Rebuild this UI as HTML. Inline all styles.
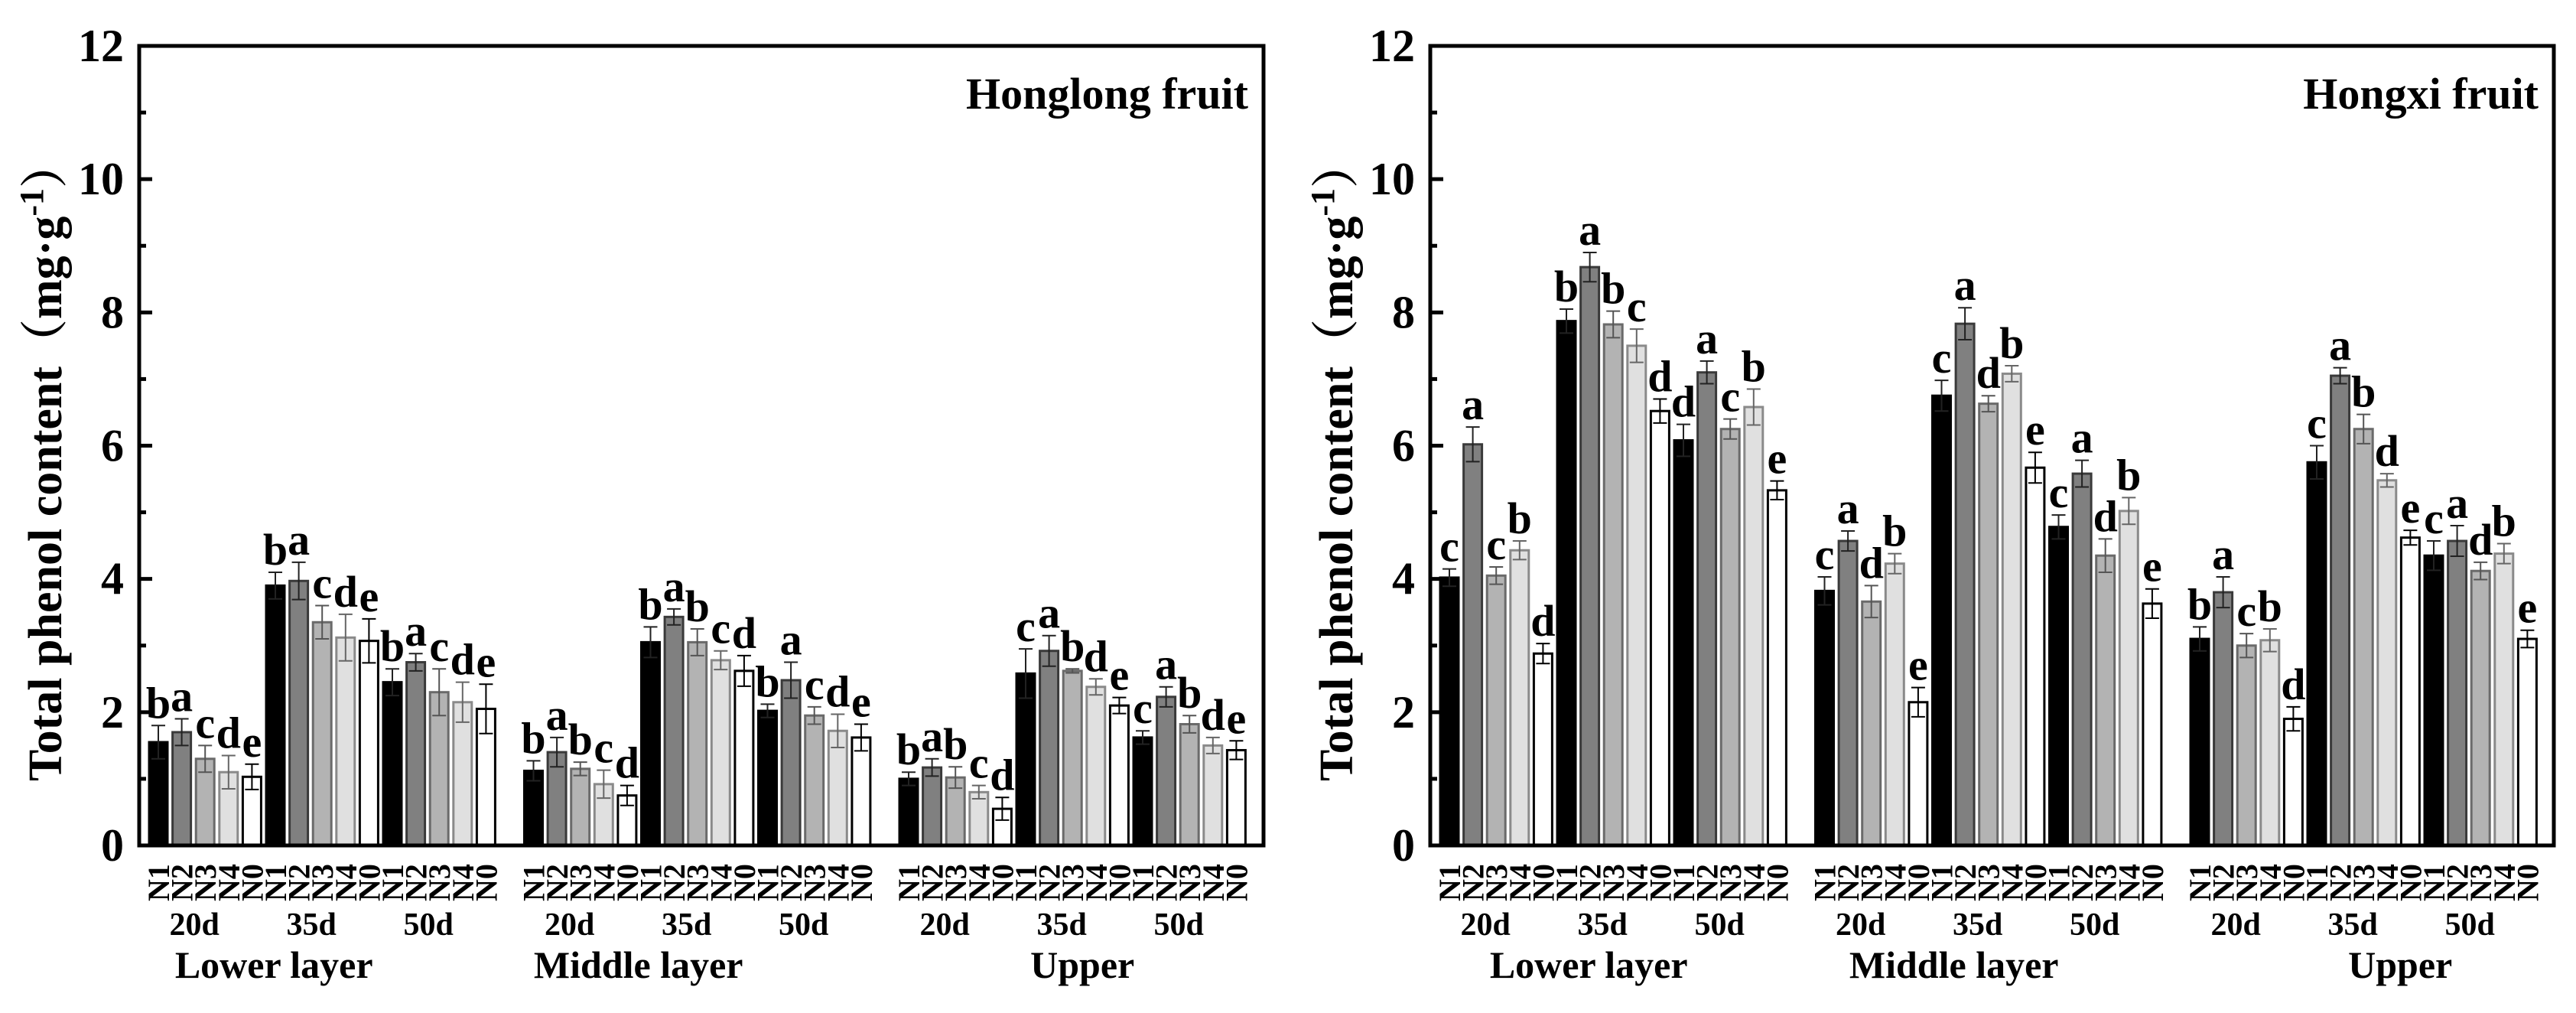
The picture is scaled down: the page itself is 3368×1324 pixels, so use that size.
<!DOCTYPE html>
<html><head><meta charset="utf-8"><style>
html,body{margin:0;padding:0;background:#fff}
svg{display:block}
text{font-family:"Liberation Serif","Noto Serif CJK SC",serif;font-weight:bold;fill:#000}
</style></head><body>
<svg id="chart" width="3368" height="1324" viewBox="0 0 3368 1324" xmlns="http://www.w3.org/2000/svg"></svg>
<script>
const treatments = ["N1","N2","N3","N4","N0"];
const periods = ["20d","35d","50d"];
const layers = ["Lower layer","Middle layer","Upper"];
const yTicks = [0,2,4,6,8,10,12];
// Honglong fruit
const hlValues = [1.55,1.7,1.3,1.1,1.03, 3.9,3.97,3.35,3.12,3.07, 2.45,2.75,2.3,2.15,2.05,
  1.12,1.4,1.15,0.92,0.75, 3.05,3.43,3.05,2.78,2.62, 2.02,2.48,1.95,1.72,1.62,
  1.0,1.17,1.02,0.8,0.55, 2.58,2.92,2.62,2.38,2.1, 1.62,2.23,1.82,1.5,1.43];
const hlErrTop = [1.8,1.9,1.5,1.35,1.22, 4.1,4.25,3.6,3.47,3.4, 2.65,2.88,2.65,2.45,2.42,
  1.27,1.62,1.25,1.13,0.9, 3.28,3.55,3.25,2.92,2.85, 2.12,2.75,2.08,1.97,1.82,
  1.1,1.3,1.18,0.9,0.72, 2.95,3.15,2.65,2.5,2.22, 1.72,2.38,1.95,1.62,1.57];
const hlLetters = ["b","a","c","d","e","b","a","c","d","e","b","a","c","d","e",
  "b","a","b","c","d","b","a","b","c","d","b","a","c","d","e",
  "b","a","b","c","d","c","a","b","d","e","c","a","b","d","e"];
// Hongxi fruit
const hxValues = [4.02,6.02,4.05,4.43,2.88, 7.87,8.68,7.82,7.5,6.52, 6.08,7.1,6.25,6.58,5.33,
  3.82,4.57,3.66,4.23,2.15, 6.75,7.83,6.63,7.08,5.67, 4.78,5.58,4.35,5.02,3.63,
  3.1,3.8,3.0,3.08,1.9, 5.75,7.05,6.25,5.48,4.62, 4.35,4.57,4.12,4.38,3.1];
const hxErrTop = [4.15,6.28,4.18,4.57,3.03, 8.05,8.9,8.02,7.75,6.7, 6.32,7.27,6.4,6.85,5.47,
  4.03,4.72,3.9,4.38,2.37, 6.98,8.07,6.75,7.2,5.9, 4.96,5.78,4.6,5.22,3.85,
  3.28,4.03,3.18,3.25,2.08, 6.0,7.17,6.47,5.58,4.73, 4.57,4.8,4.25,4.53,3.23];
const hxLetters = ["c","a","c","b","d","b","a","b","c","d","d","a","c","b","e",
  "c","a","d","b","e","c","a","d","b","e","c","a","d","b","e",
  "b","a","c","b","d","c","a","b","d","e","c","a","d","b","e"];

const NS="http://www.w3.org/2000/svg";
const svg=document.getElementById('chart');
function mk(tag,attrs,parent){const e=document.createElementNS(NS,tag);for(const k in attrs)e.setAttribute(k,attrs[k]);(parent||svg).appendChild(e);return e;}
const fills=["#000000","#808080","#b3b3b3","#e0e0e0","#ffffff"];
const strokes=["#000000","#3a3a3a","#6a6a6a","#8a8a8a","#000000"];
const errCol=["#222","#222","#555","#666","#000"];
const TOP=60,BOT=1105;
function yS(v){return BOT-(v/12)*(BOT-TOP);}

function panel(axL,axR,values,errTop,letters,title,titleName,layerOff){
  const g=mk('g',{});
  
  
  const pitch=30.6,bw=24,layerStep=490.5,first=axL+13;
  function xS(i){const l=Math.floor(i/15),j=i%15;return first+l*layerStep+j*pitch;}
  for(let i=0;i<values.length;i++){
    const x=xS(i),t=i%5,v=values[i],e=errTop[i]-v;
    const r=mk('rect',{x:x,y:yS(v),width:bw,height:yS(0)-yS(v),fill:fills[t],stroke:strokes[t],'stroke-width':3},g);
    
    
    const cx=x+bw/2;
    const eb=mk('path',{d:`M${cx},${yS(v-e)}V${yS(v+e)}M${cx-9},${yS(v+e)}H${cx+9}M${cx-9},${yS(v-e)}H${cx+9}`,stroke:errCol[t],'stroke-width':2,fill:'none'},g);
    
    
    const lt=mk('text',{x:cx,y:yS(errTop[i])-10,'font-size':58,'text-anchor':'middle'},g);
    lt.textContent=letters[i];
    
    
    const xl=mk('text',{transform:`translate(${cx+14},1178) rotate(-90)`,'font-size':40,'text-anchor':'start'},g);
    xl.textContent=treatments[t];
    
    
  }
  const fr=mk('rect',{x:axL,y:TOP,width:axR-axL,height:BOT-TOP,fill:'none',stroke:'#000','stroke-width':5},g);
  
  
  for(let v=0;v<=12;v++){
    const len=v%2===0?17:9;
    if(v>0&&v<12){const tk=mk('line',{x1:axL,x2:axL+len,y1:yS(v),y2:yS(v),stroke:'#000','stroke-width':5},g);
      }
  }
  yTicks.forEach(v=>{
    const t=mk('text',{x:axL-20,y:yS(v)+20,'font-size':60,'text-anchor':'end'},g);
    t.textContent=v;
    
    
  });
  for(let l=0;l<3;l++){
    for(let p=0;p<3;p++){
      const cx=first+l*layerStep+(p*5+2)*pitch+bw/2-14;
      const t=mk('text',{x:cx,y:1222,'font-size':42,'text-anchor':'middle'},g);
      t.textContent=periods[p];
      
      
    }
    const cx=first+l*layerStep+7*pitch+bw/2+layerOff[l];
    const t=mk('text',{x:cx,y:1278,'font-size':50,'text-anchor':'middle'},g);
    t.textContent=layers[l];
    
    
  }
  const tt=mk('text',{x:axR-20,y:142,'font-size':58,'text-anchor':'end'},g);
  tt.textContent=title;
  
  
  const yt=mk('text',{transform:`translate(${axL-102},${(TOP+BOT)/2+20}) rotate(-90)`,'font-size':62,'text-anchor':'middle'},g);
  yt.innerHTML='Total phenol content（mg·g<tspan dy="-24" font-size="44">-1</tspan><tspan dy="24">）</tspan>';
  
  
}
panel(182,1652,hlValues,hlErrTop,hlLetters,'Honglong fruit','honglong',[-63,-77,13]);
panel(1870,3339,hxValues,hxErrTop,hxLetters,'Hongxi fruit','hongxi',[-32,-45,48]);
</script>
</body></html>
